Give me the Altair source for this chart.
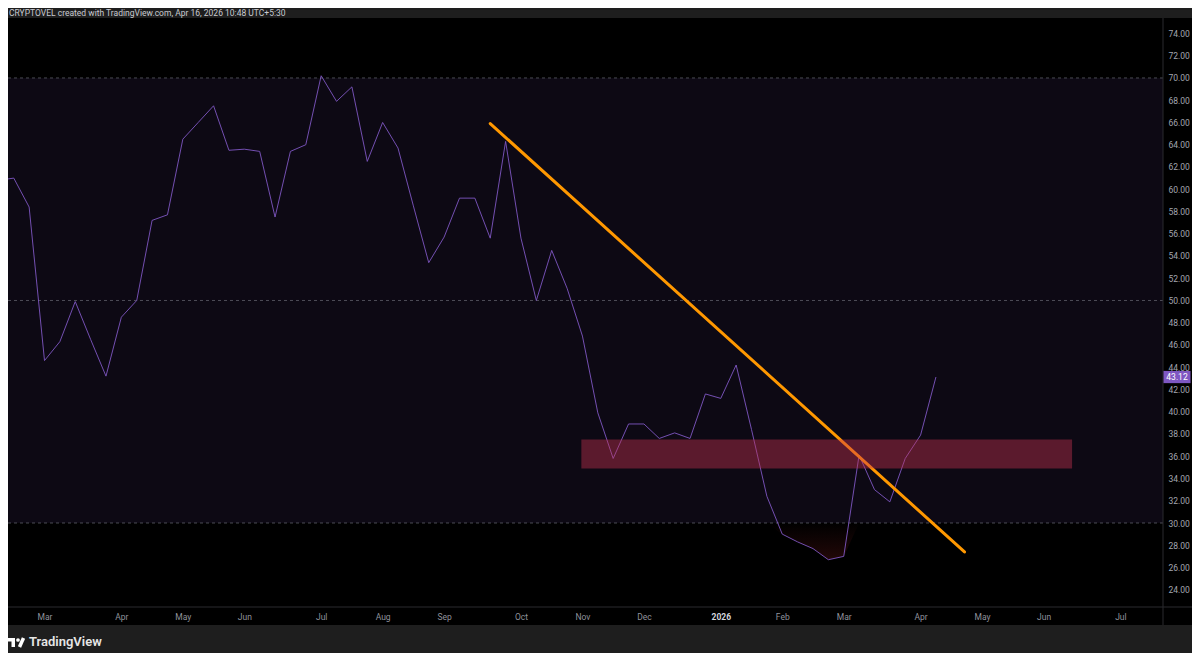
import altair as alt
import pandas as pd

# ---------------- data ----------------
weeks = [d.strftime("%Y-%m-%d") for d in pd.date_range("2025-02-10", "2026-04-13", freq="7D")]
rsi = [60.8, 61.0, 58.4, 44.6, 46.3, 49.9, 46.5, 43.2, 48.5, 50.0,
       57.2, 57.7, 64.5, 66.0, 67.5, 63.5, 63.6, 63.4, 57.5, 63.4,
       64.0, 70.2, 67.9, 69.2, 62.5, 66.0, 63.7, 58.5, 53.4, 55.7,
       59.2, 59.2, 55.6, 64.3, 55.6, 50.0, 54.5, 51.1, 46.8, 39.9,
       35.8, 38.9, 38.9, 37.6, 38.1, 37.6, 41.6, 41.2, 44.2, 38.4,
       32.4, 29.0, 28.3, 27.7, 26.7, 27.0, 36.1, 33.0, 31.9, 35.8,
       37.9, 43.12]

band_low, band_high = 30, 70
dash_levels = [70, 50, 30]

trend_dates = ["2025-09-22", "2026-04-26"]
trend_values = [65.9, 27.4]

zone_start = ["2025-11-02T12:00:00Z"]
zone_end = ["2026-06-14T00:00:00Z"]
zone_low = [34.9]
zone_high = [37.5]

month_ticks = [(2025, 3, 3), (2025, 4, 7), (2025, 5, 5), (2025, 6, 2), (2025, 7, 7),
               (2025, 8, 4), (2025, 9, 1), (2025, 10, 6), (2025, 11, 3), (2025, 12, 1),
               (2026, 1, 5), (2026, 2, 2), (2026, 3, 2), (2026, 4, 6), (2026, 5, 4),
               (2026, 6, 1), (2026, 7, 6)]
y_ticks = list(range(24, 76, 2))

header = "CRYPTOVEL created with TradingView.com, Apr 16, 2026 10:48 UTC+5:30"
brand = "TradingView"

# ---------------- layout ----------------
W, H = 1155, 589
AX_W, AX_H = 29, 18
FONT = "Roboto"

xscale = alt.Scale(
    type="utc",
    domain=[alt.DateTime(year=2025, month=2, date=14, hours=9, utc=True),
            alt.DateTime(year=2026, month=7, date=25, hours=9, minutes=45, utc=True)],
    nice=False,
)
xaxis = alt.Axis(
    values=[alt.DateTime(year=y, month=m, date=d, utc=True) for (y, m, d) in month_ticks],
    labelExpr="utcmonth(datum.value) == 0 ? utcFormat(datum.value, '%Y') : utcFormat(datum.value, '%b')",
    labelFont=FONT, labelFontSize=8.5,
    labelColor={"condition": {"test": "utcmonth(datum.value) == 0", "value": "#d1d4dc"}, "value": "#8f929b"},
    labelFontWeight={"condition": {"test": "utcmonth(datum.value) == 0", "value": "bold"}, "value": "normal"},
    labelPadding=5, ticks=False, domain=False, grid=False, title=None, zindex=1,
    labelOverlap=False, labelFlush=False,
)
yscale = alt.Scale(domain=[22.45, 75.39], nice=False, zero=False)
yaxis = alt.Axis(
    orient="right", values=y_ticks, format=".2f", labelFont=FONT, labelFontSize=8.5,
    labelColor="#a3a6af", labelPadding=5, ticks=False, domain=False, grid=False,
    title=None, zindex=1, labelOverlap=False,
)


def X(field):
    return alt.X(field, type="temporal", scale=xscale, axis=xaxis)


def Y(field):
    return alt.Y(field, type="quantitative", scale=yscale, axis=yaxis)


df = pd.DataFrame({"week": weeks, "rsi": rsi})
one = pd.DataFrame({"k": [0]})

band = alt.Chart(pd.DataFrame({"lo": [band_low], "hi": [band_high]})).mark_rect(
    color="#7e57c2", opacity=0.1
).encode(x=alt.value(0), x2=alt.value(W), y=Y("lo"), y2=alt.Y2("hi"))

oversold = alt.Chart(df).transform_calculate(low="min(datum.rsi, 30)").mark_area(
    clip=True,
    color=alt.Gradient(
        gradient="linear",
        stops=[alt.GradientStop(color="#000000", offset=0),
               alt.GradientStop(color="#220808", offset=1)],
        x1=0, x2=0, y1=0, y2=1,
    ),
).encode(x=X("week"), y=Y("low"), y2=alt.datum(30))

dashes = alt.Chart(pd.DataFrame({"level": dash_levels})).mark_rule(
    color="#787b86", opacity=0.6, strokeDash=[3, 3], strokeWidth=1
).encode(y=Y("level"))

line = alt.Chart(df).mark_line(color="#7e57c2", strokeWidth=1, opacity=0.9, clip=True).encode(
    x=X("week"), y=Y("rsi")
)

trend = alt.Chart(pd.DataFrame({"d": trend_dates, "v": trend_values})).mark_line(
    color="#ff9800", strokeWidth=3, strokeCap="round"
).encode(x=X("d"), y=Y("v"))

zone = alt.Chart(pd.DataFrame({"s": zone_start, "e": zone_end, "lo": zone_low, "hi": zone_high})).mark_rect(
    color="#c83250", opacity=0.42
).encode(x=X("s"), x2=alt.X2("e"), y=Y("lo"), y2=alt.Y2("hi"))

bg_right = alt.Chart(one).mark_rect(color="#000000").encode(
    x=alt.value(W), x2=alt.value(W + AX_W), y=alt.value(0), y2=alt.value(H + AX_H)
)
bg_bottom = alt.Chart(one).mark_rect(color="#000000").encode(
    x=alt.value(0), x2=alt.value(W + AX_W), y=alt.value(H), y2=alt.value(H + AX_H)
)
sep_v = alt.Chart(one).mark_rule(color="#2a2a2e", strokeWidth=1).encode(
    x=alt.value(W), y=alt.value(0), y2=alt.value(H + AX_H)
)
sep_h = alt.Chart(one).mark_rule(color="#2a2a2e", strokeWidth=1).encode(
    x=alt.value(0), x2=alt.value(W + AX_W), y=alt.value(H)
)

price_df = pd.DataFrame({"rsi": [rsi[-1]]})
price_box = alt.Chart(price_df).transform_calculate(
    lo="datum.rsi - 0.55", hi="datum.rsi + 0.55"
).mark_rect(color="#7e57c2").encode(
    x=alt.value(W + 0.5), x2=alt.value(W + 27.5), y=Y("lo"), y2=alt.Y2("hi")
)
price_txt = alt.Chart(price_df).mark_text(
    color="#ffffff", fontSize=8.5, font=FONT, align="center", baseline="middle"
).encode(x=alt.value(W + 14), y=Y("rsi"), text=alt.Text("rsi:Q", format=".2f"))

head = alt.Chart(one).mark_text(
    align="left", baseline="alphabetic", fontSize=8.5, font=FONT, color="#c8cad0"
).encode(x=alt.value(1), y=alt.value(-2.5), text=alt.value(header))

# TradingView logo (decoration)
logo_bar = alt.Chart(one).mark_rect(color="#ffffff").encode(
    x=alt.value(0), x2=alt.value(7), y=alt.value(620), y2=alt.value(623.5)
)
logo_stem = alt.Chart(one).mark_rect(color="#ffffff").encode(
    x=alt.value(3.5), x2=alt.value(7), y=alt.value(620), y2=alt.value(629)
)
logo_dot = alt.Chart(one).mark_circle(color="#ffffff", opacity=1, size=14).encode(
    x=alt.value(10), y=alt.value(622)
)
logo_slash = alt.Chart(one).mark_rule(color="#ffffff", strokeWidth=3.5).encode(
    x=alt.value(15.5), x2=alt.value(11.5), y=alt.value(620), y2=alt.value(629)
)
logo_text = alt.Chart(one).mark_text(
    align="left", baseline="alphabetic", fontSize=13, fontWeight=600, font=FONT, color="#e6e6e6"
).encode(x=alt.value(21), y=alt.value(628), text=alt.value(brand))

chart = alt.layer(
    band, oversold, dashes, line, trend, zone,
    bg_right, bg_bottom, sep_v, sep_h, price_box, price_txt,
    head, logo_bar, logo_stem, logo_dot, logo_slash, logo_text,
).properties(
    width=W, height=H,
    padding={"left": 0, "top": 10, "right": AX_W, "bottom": 46},
    autosize=alt.AutoSizeParams(type="none"),
    background="#1e1e1e",
).configure_view(stroke=None, fill="#000000")

chart.save("out.html", embed_options={"renderer": "svg", "actions": False})
